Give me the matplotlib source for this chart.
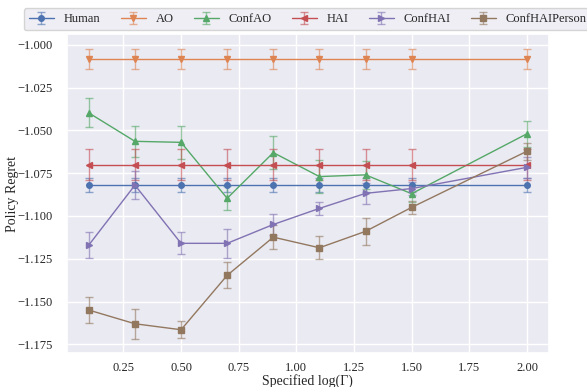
import numpy as np
import matplotlib
matplotlib.use('Agg')
from matplotlib import pyplot as plt
import seaborn as sns

gammas = [0.1, 0.3, 0.5, 0.7, 0.9, 1.1, 1.3, 1.5, 2.0]

human = [-1.082] * 9
human_err = [0.004] * 9
ao = [-1.0082] * 9
ao_err = [0.006] * 9
hai = [-1.070] * 9
hai_err = [0.009] * 9
conf_ao = [-1.0398, -1.0564, -1.057, -1.0897, -1.063, -1.077, -1.076, -1.087, -1.052]
conf_ao_err = [0.0085, 0.009, 0.0095, 0.007, 0.0098, 0.0098, 0.008, 0.005, 0.0075]
conf_hai = [-1.117, -1.082, -1.116, -1.116, -1.105, -1.0956, -1.0868, -1.084, -1.0716]
conf_hai_err = [0.0077, 0.008, 0.0064, 0.0084, 0.006, 0.004, 0.006, 0.004, 0.006]
conf_hai_person = [-1.155, -1.163, -1.1665, -1.1347, -1.1124, -1.1186, -1.109, -1.095, -1.0622]
conf_hai_person_err = [0.0078, 0.0088, 0.005, 0.0075, 0.007, 0.0067, 0.008, 0.004, 0.005]

series = [
    ('Human', human, human_err, 'o'),
    ('AO', ao, ao_err, 'v'),
    ('ConfAO', conf_ao, conf_ao_err, '^'),
    ('HAI', hai, hai_err, '<'),
    ('ConfHAI', conf_hai, conf_hai_err, '>'),
    ('ConfHAIPerson', conf_hai_person, conf_hai_person_err, 's'),
]

sns.set_theme(style='darkgrid')
plt.rcParams['font.family'] = ['Liberation Serif', 'DejaVu Serif']

fig = plt.figure(figsize=(5.87, 3.87), dpi=100)
ax = fig.add_axes([0.114, 0.087, 0.821, 0.825])
colors = sns.color_palette()

for i, (name, vals, errs, mk) in enumerate(series):
    c = colors[i]
    eb = ax.errorbar(gammas, vals, yerr=errs, label=name, color=c, marker=mk,
                     markersize=4, linewidth=1, capsize=3, elinewidth=1)
    for part in eb[1] + eb[2]:
        part.set_alpha(0.6)

ax.set_xlabel('Specified log(Γ)', fontsize=10, labelpad=0)
ax.set_ylabel('Policy Regret', fontsize=10)
ax.yaxis.set_label_coords(-0.1, 0.5)
ax.tick_params(labelsize=9, pad=0)
ax.tick_params(axis='y', pad=4)
ax.yaxis.set_major_formatter(matplotlib.ticker.FuncFormatter(
    lambda v, p: f'{v:.3f}'.replace('-', '\u2212')))
ax.legend(loc='upper center', bbox_to_anchor=(0.5, 1.1), ncol=6, fontsize=9,
          frameon=True, handlelength=2, columnspacing=1.6)

fig.savefig('out.png', dpi=100)
